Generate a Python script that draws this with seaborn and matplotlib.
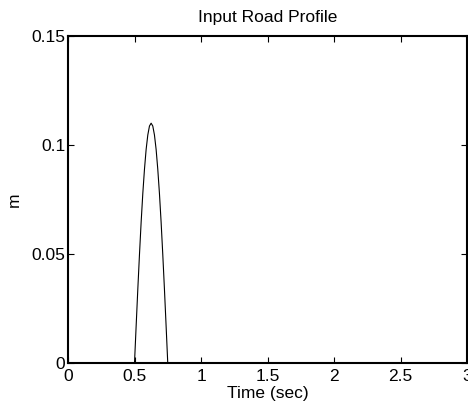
import numpy as np
import pandas as pd
import matplotlib
matplotlib.use("Agg")
import matplotlib.pyplot as plt
import seaborn as sns

time_s = [0.0, 0.5, 0.5125, 0.525, 0.5375, 0.55, 0.5625, 0.575, 0.5875, 0.6, 0.6125,
          0.625, 0.6375, 0.65, 0.6625, 0.675, 0.6875, 0.7, 0.7125, 0.725, 0.7375, 0.75, 3.0]
road_m = [0.0, 0.0, 0.0172, 0.0340, 0.0499, 0.0647, 0.0778, 0.0889, 0.0980, 0.1046, 0.1087,
          0.1100, 0.1087, 0.1046, 0.0980, 0.0889, 0.0778, 0.0647, 0.0499, 0.0340, 0.0172, 0.0, 0.0]
x_ticks = [0, 0.5, 1, 1.5, 2, 2.5, 3]
x_tick_labels = ["0", "0.5", "1", "1.5", "2", "2.5", "3"]
y_ticks = [0, 0.05, 0.1, 0.15]
y_tick_labels = ["0", "0.05", "0.1", "0.15"]

sns.set_theme(style="ticks")
plt.rcParams["font.family"] = ["Liberation Sans", "DejaVu Sans"]
plt.rcParams["text.color"] = "black"
plt.rcParams["axes.labelcolor"] = "black"

df = pd.DataFrame({"t": time_s, "y": road_m})

fs = 12.5
fig = plt.figure(figsize=(4.68, 4.07), dpi=100)
ax = fig.add_axes([68/468, 1-363/407, (467-68)/468, (363-36)/407])
sns.lineplot(data=df, x="t", y="y", ax=ax, color="black", linewidth=0.8)

ax.set_xlim(0, 3)
ax.set_ylim(0, 0.15)
ax.set_xticks(x_ticks)
ax.set_xticklabels(x_tick_labels)
ax.set_yticks(y_ticks)
ax.set_yticklabels(y_tick_labels)
ax.tick_params(direction="in", length=4, width=0.8, top=True, right=True,
               labelsize=fs, colors="black")
ax.tick_params(axis="x", pad=4)
ax.tick_params(axis="y", pad=2)
for s in ax.spines.values():
    s.set_visible(True)
    s.set_linewidth(1.5)
    s.set_color("black")
ax.set_xlabel("Time (sec)", fontsize=fs, labelpad=2, color="black")
ax.set_ylabel("m", fontsize=fs, labelpad=7, color="black")
ax.set_title("Input Road Profile", fontsize=fs, pad=10, color="black")
ax.grid(False)
fig.savefig("out.png", dpi=100)
